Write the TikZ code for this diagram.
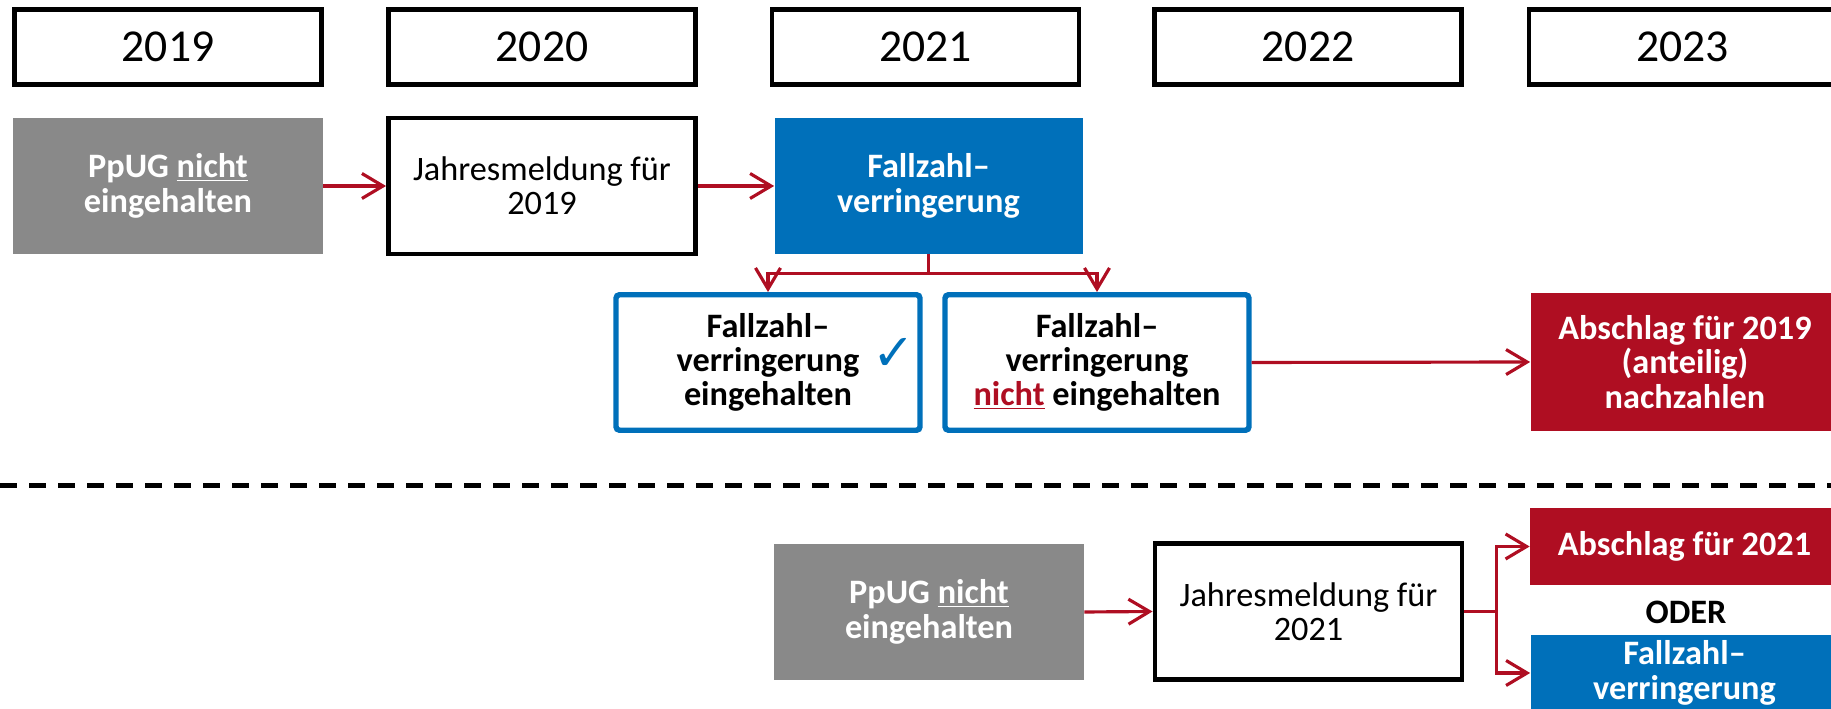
\documentclass[tikz,border=0pt]{standalone}
\usepackage{fontspec}
\setmainfont{Carlito}
\newfontfamily\symfont{DejaVu Sans}
\usepackage{xcolor}
\definecolor{ppblue}{RGB}{0,112,186}
\definecolor{ppred}{RGB}{175,14,34}
\definecolor{ppgrey}{RGB}{137,137,137}
\usetikzlibrary{arrows.meta}

\begin{document}
\begin{tikzpicture}[
  yearbox/.style={draw=black, line width=2.8pt, minimum width=6.14cm, minimum height=1.5cm, font=\fontsize{26}{28}\selectfont},
  greybox/.style={fill=ppgrey, text=white, inner sep=2pt, minimum width=6.2cm, minimum height=2.72cm, align=center, font=\fontsize{19.5}{19.5}\selectfont\bfseries},
  bluebox/.style={fill=ppblue, text=white, inner sep=2pt, minimum width=6.16cm, minimum height=2.72cm, align=center, font=\fontsize{19.5}{19.5}\selectfont\bfseries},
  redbox/.style={fill=ppred, text=white, inner sep=2pt, minimum width=6.18cm, align=center, font=\fontsize{19.5}{19.5}\selectfont\bfseries},
  reportbox/.style={draw=black, line width=2.8pt, inner sep=2pt, minimum width=6.14cm, minimum height=2.72cm, align=center, font=\fontsize{19.5}{19.5}\selectfont},
  outcome/.style={draw=ppblue, line width=3.1pt, rounded corners=2pt, inner sep=2pt, minimum width=6.08cm, minimum height=2.71cm, align=center, font=\fontsize{19.5}{19.5}\selectfont\bfseries},
  arr/.style={-{Straight Barb[length=0.42cm, width=0.5cm]}, line width=1.8pt, ppred}
]
  \useasboundingbox (0,0) rectangle (36.62,14.18);
  \clip (0,0) rectangle (36.62,14.18);

  % years
  \node[yearbox] (y19) at (3.36,13.24) {2019};
  \node[yearbox] (y20) at (10.84,13.24) {2020};
  \node[yearbox] (y21) at (18.51,13.24) {2021};
  \node[yearbox] (y22) at (26.16,13.24) {2022};
  \node[yearbox] (y23) at (33.65,13.24) {2023};

  % case 2019
  \node[greybox] (pg19) at (3.36,10.46) {PpUG \underline{nicht}\\eingehalten};
  \node[reportbox] (jm19) at (10.84,10.46) {Jahresmeldung für\\2019};
  \node[bluebox] (fz19) at (18.57,10.46) {Fallzahl–\\verringerung};

  \draw[arr] (pg19.east) -- (jm19.west);
  \draw[arr] (jm19.east) -- (fz19.west);

  \node[outcome] (fzok) at (15.36,6.93) {Fallzahl–\\verringerung\\eingehalten};
  \node[font=\symfont\fontsize{29}{29}\selectfont, text=ppblue, inner sep=0pt] (tick) at (17.87,7.1) {✓};
  \node[outcome] (fznok) at (21.94,6.93) {Fallzahl–\\verringerung\\\textcolor{ppred}{\underline{nicht}} eingehalten};
  \node[redbox, minimum height=2.76cm] (abs19) at (33.70,6.94) {Abschlag für 2019\\(anteilig)\\nachzahlen};

  \draw[arr] (fz19.south) -- ++(0,-0.38) -| (fzok.north);
  \draw[arr] (fz19.south) -- ++(0,-0.38) -| (fznok.north);
  \draw[arr] (fznok.east) -- (abs19.west);

  \draw[black, line width=2.3pt, dash pattern=on 0.34cm off 0.24cm] (0,4.47) -- (36.62,4.47);

  % case 2021
  \node[greybox] (pg21) at (18.58,1.94) {PpUG \underline{nicht}\\eingehalten};
  \node[reportbox] (jm21) at (26.17,1.95) {Jahresmeldung für\\2021};
  \node[redbox, minimum height=1.54cm] (abs21) at (33.69,3.25) {Abschlag für 2021};
  \node[font=\fontsize{19.5}{19.5}\selectfont\bfseries] (oder) at (33.72,1.94) {ODER};
  \node[bluebox, minimum height=1.52cm] (fz21) at (33.69,0.72) {Fallzahl–\\verringerung};

  \draw[arr] (pg21.east) -- (jm21.west);
  \draw[arr] (jm21.east) -- ++(0.64,0) |- (abs21.west);
  \draw[arr] (jm21.east) -- ++(0.64,0) |- (fz21.west);
\end{tikzpicture}
\end{document}
